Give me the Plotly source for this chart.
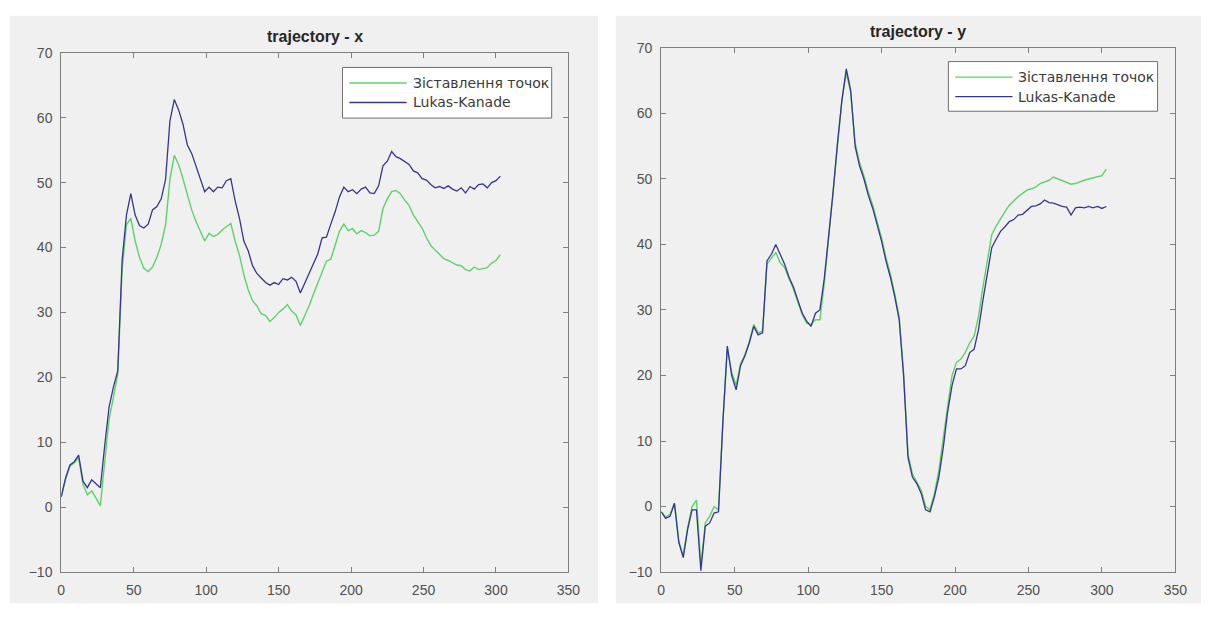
import plotly.graph_objects as go

# frame index (every third frame)
frames = list(range(0, 304, 3))

# trajectory - x
x_match = [1.6, 4.3, 6.3, 6.8, 7.6, 3.5, 1.9, 2.5, 1.4, 0.2,
           7.0, 13.5, 16.9, 20.5, 36.5, 43.5, 44.5, 41.0, 38.5, 36.8,
           36.3, 37.0, 38.5, 40.5, 43.5, 50.5, 54.2, 52.8, 50.6, 48.0,
           45.8, 44.0, 42.5, 41.0, 42.2, 41.7, 42.0, 42.7, 43.2, 43.7,
           41.0, 38.8, 35.8, 33.5, 31.8, 31.0, 29.8, 29.5, 28.6, 29.2,
           30.0, 30.5, 31.2, 30.2, 29.6, 28.0, 29.5, 31.0, 32.8, 34.5,
           36.0, 37.9, 38.2, 40.5, 42.5, 43.6, 42.6, 42.9, 42.1, 42.6,
           42.3, 41.8, 41.9, 42.5, 46.0, 47.5, 48.6, 48.8, 48.3, 47.3,
           46.5, 45.0, 44.0, 43.0, 41.5, 40.3, 39.6, 39.0, 38.3, 38.0,
           37.6, 37.3, 37.2, 36.6, 36.4, 37.0, 36.6, 36.8, 36.9, 37.6,
           38.0, 38.9]
x_lk = [1.6, 4.5, 6.5, 7.0, 8.0, 4.0, 3.0, 4.2, 3.6, 3.0,
        9.5, 15.4, 18.5, 21.0, 38.0, 45.0, 48.3, 45.0, 43.4, 43.0,
        43.6, 45.8, 46.3, 47.5, 50.5, 59.5, 62.8, 61.2, 59.0, 55.8,
        54.5, 52.5, 50.5, 48.6, 49.3, 48.6, 49.3, 49.2, 50.3, 50.6,
        47.2, 44.5, 41.0, 39.5, 37.2, 36.0, 35.3, 34.6, 34.2, 34.6,
        34.3, 35.2, 35.0, 35.4, 34.8, 33.0, 34.5, 36.0, 37.5, 39.0,
        41.5, 41.6, 43.6, 45.5, 47.8, 49.3, 48.6, 48.9, 48.3, 49.0,
        49.3, 48.4, 48.3, 49.5, 52.6, 53.3, 54.8, 54.0, 53.7, 53.2,
        52.8, 51.8, 51.5, 50.6, 50.4, 49.7, 49.2, 49.4, 49.1, 49.5,
        49.0, 48.7, 49.2, 48.4, 49.4, 49.0, 49.7, 49.8, 49.2, 50.0,
        50.3, 51.0]

# trajectory - y
y_match = [-0.8, -1.6, -1.2, 0.5, -5.3, -7.5, -3.2, 0.0, 1.0, -9.0,
           -2.5, -1.5, 0.0, -0.5, 13.0, 24.0, 20.5, 18.5, 21.8, 23.2,
           25.2, 27.8, 26.5, 26.8, 37.0, 38.0, 38.8, 37.2, 36.5, 34.8,
           33.2, 31.2, 29.3, 28.0, 27.8, 28.5, 28.5, 34.0, 41.0, 48.0,
           55.5, 62.0, 66.2, 63.2, 55.5, 52.5, 50.5, 48.0, 46.0, 43.5,
           41.0, 38.0, 35.5, 32.5, 29.0, 20.5, 8.0, 5.0, 3.8, 2.5,
           0.0, -0.5, 2.0, 5.5, 10.5, 15.5, 20.0, 22.0, 22.5, 23.5,
           25.0, 26.0, 29.0, 33.5, 37.5, 41.5, 42.8, 44.0, 45.0, 46.0,
           46.7, 47.3, 47.8, 48.3, 48.5, 48.8, 49.3, 49.5, 49.8, 50.3,
           50.0, 49.8, 49.5, 49.2, 49.3, 49.6, 49.8, 50.0, 50.2, 50.3,
           50.5, 51.5]
y_lk = [-0.8, -1.8, -1.5, 0.5, -5.5, -7.8, -3.5, -0.5, -0.5, -9.8,
        -3.0, -2.5, -1.0, -0.8, 13.0, 24.5, 20.0, 17.8, 21.5, 23.0,
        25.0, 27.5, 26.2, 26.5, 37.5, 38.5, 40.0, 38.5, 37.0, 35.0,
        33.5, 31.5, 29.5, 28.3, 27.5, 29.5, 30.0, 34.8, 41.0, 48.0,
        55.5, 62.0, 66.8, 63.5, 55.0, 52.0, 50.0, 47.5, 45.5, 43.0,
        40.5, 37.5, 35.0, 32.0, 28.5, 20.0, 7.5, 4.5, 3.5, 2.0,
        -0.5, -0.8, 1.5, 4.5, 9.0, 14.5, 18.5, 21.0, 21.0, 21.5,
        23.5, 24.0, 27.0, 31.5, 35.5, 39.5, 40.8, 42.0, 42.7, 43.5,
        43.8, 44.5, 44.6, 45.2, 45.8, 45.9, 46.2, 46.8, 46.4, 46.3,
        46.0, 45.8, 45.7, 44.5, 45.6, 45.7, 45.6, 45.8, 45.6, 45.8,
        45.5, 45.8]

series_names = ["Зіставлення точок", "Lukas-Kanade"]
titles = ["trajectory - x", "trajectory - y"]
x_ticks = [0, 50, 100, 150, 200, 250, 300, 350]
y_ticks = [-10, 0, 10, 20, 30, 40, 50, 60, 70]

GREEN = "#5ad565"
BLUE = "#35358f"
W, H = 1213, 619

fig = go.Figure()
for axis, (g, b) in zip(["", "2"], [(x_match, x_lk), (y_match, y_lk)]):
    fig.add_trace(go.Scatter(x=frames, y=g, mode="lines", name=series_names[0],
                             line=dict(color=GREEN, width=1.4),
                             xaxis="x" + axis, yaxis="y" + axis, showlegend=False))
    fig.add_trace(go.Scatter(x=frames, y=b, mode="lines", name=series_names[1],
                             line=dict(color=BLUE, width=1.3),
                             xaxis="x" + axis, yaxis="y" + axis, showlegend=False))


def px(x):
    return x / W


def py(y):
    return 1 - y / H


tick_font = dict(family="Liberation Sans, Arial", size=14, color="#505050")
axis_common = dict(showgrid=False, zeroline=False, showline=True,
                   linecolor="#7f7f7f", linewidth=1, mirror="ticks",
                   ticks="inside", ticklen=5, tickcolor="#7f7f7f",
                   tickfont=tick_font, ticklabelstandoff=5)

# panel boxes in pixels: (left, right, top, bottom)
boxes = [(58, 572, 46, 579), (666, 1187, 41, 579)]

layout = dict(width=W, height=H, margin=dict(l=0, r=0, t=0, b=0),
              paper_bgcolor="white", plot_bgcolor="white", showlegend=False)
for i, (l, r, t, b) in enumerate(boxes):
    sfx = "" if i == 0 else "2"
    layout["xaxis" + sfx] = dict(axis_common, domain=[px(l), px(r)], range=[0, 350],
                                 tickvals=x_ticks, anchor="y" + sfx)
    layout["yaxis" + sfx] = dict(axis_common, domain=[py(b), py(t)], range=[-10, 70],
                                 tickvals=y_ticks, anchor="x" + sfx)
fig.update_layout(**layout)

shapes = []
annotations = []
# grey figure backgrounds
for (l, r, t, b) in [(6, 602, 8, 611), (620, 1213, 8, 611)]:
    shapes.append(dict(type="rect", xref="paper", yref="paper", layer="below",
                       x0=px(l), x1=px(r), y0=py(b), y1=py(t),
                       fillcolor="#f0f0f0", line=dict(width=0)))

# titles
for (l, r, t, b), title in zip(boxes, titles):
    annotations.append(dict(text="<b>" + title + "</b>", xref="paper", yref="paper",
                            x=px((l + r) / 2), y=py(t - 17), xanchor="center",
                            yanchor="middle", showarrow=False,
                            font=dict(family="Liberation Sans, Arial", size=16,
                                      color="#262626")))

# legends: (left, right, top, bottom)
legend_boxes = [(343, 555, 61, 113), (957, 1169, 55, 106)]
for (l, r, t, b) in legend_boxes:
    shapes.append(dict(type="rect", xref="paper", yref="paper", layer="above",
                       x0=px(l), x1=px(r), y0=py(b), y1=py(t),
                       fillcolor="white", line=dict(color="#6f6f6f", width=1)))
    rows = [t + 16, t + 36]
    for yrow, name, col in zip(rows, series_names, [GREEN, BLUE]):
        shapes.append(dict(type="line", xref="paper", yref="paper", layer="above",
                           x0=px(l + 7), x1=px(l + 65), y0=py(yrow), y1=py(yrow),
                           line=dict(color=col, width=1.3)))
        annotations.append(dict(text=name, xref="paper", yref="paper",
                                x=px(l + 69), y=py(yrow), xanchor="left",
                                yanchor="middle", showarrow=False,
                                font=dict(family="DejaVu Sans", size=14,
                                          color="#3a3a3a")))

fig.update_layout(shapes=shapes, annotations=annotations)
fig.write_html("out.html")
